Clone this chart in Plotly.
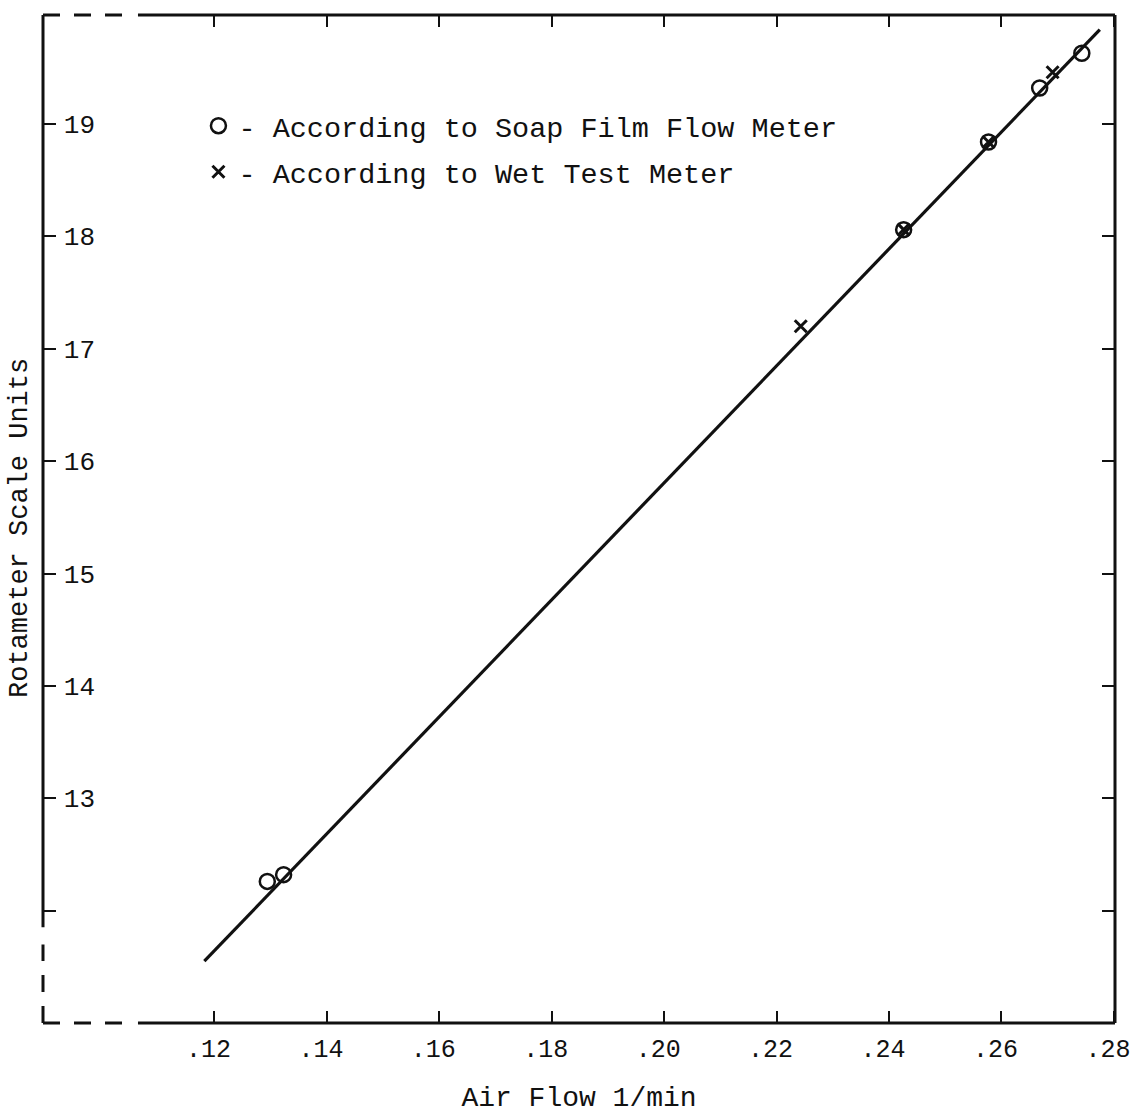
import plotly.graph_objects as go

# ---- data ----
soap_x = [0.1294, 0.1323, 0.2426, 0.2577, 0.2668, 0.2743]
soap_y = [12.26, 12.32, 18.06, 18.84, 19.32, 19.63]
wet_x = [0.2243, 0.2426, 0.2577, 0.2691]
wet_y = [17.20, 18.06, 18.84, 19.46]
fit_x = [0.1182, 0.2775]
fit_y = [11.55, 19.84]

x_ticks = [0.12, 0.14, 0.16, 0.18, 0.20, 0.22, 0.24, 0.26, 0.28]
x_ticktext = [".12", ".14", ".16", ".18", ".20", ".22", ".24", ".26", ".28"]
y_ticks = [12, 13, 14, 15, 16, 17, 18, 19]
y_ticktext = ["", "13", "14", "15", "16", "17", "18", "19"]

FONT = "Liberation Mono"
BLACK = "#111111"

fig = go.Figure()
fig.add_trace(go.Scatter(x=fit_x, y=fit_y, mode="lines",
                         line=dict(color=BLACK, width=3.2), showlegend=False,
                         hoverinfo="skip"))
fig.add_trace(go.Scatter(x=soap_x, y=soap_y, mode="markers",
                         name="- According to Soap Film Flow Meter",
                         legendgroup="a",
                         marker=dict(symbol="circle-open", size=15, color=BLACK,
                                     line=dict(width=2.5, color=BLACK))))
fig.add_trace(go.Scatter(x=wet_x, y=wet_y, mode="markers",
                         name="- According to Wet Test Meter",
                         legendgroup="b",
                         marker=dict(symbol="x-thin-open", size=12, color=BLACK,
                                     line=dict(width=3, color=BLACK))))

# frame: solid parts and dashed parts
shp = []
solid = dict(color=BLACK, width=3)
dashed = dict(color=BLACK, width=3, dash="17px,14px")
D = "x domain"
E = "y domain"
shp.append(dict(type="line", xref=D, yref=E, x0=0.0886, x1=1, y0=1, y1=1, line=solid))
shp.append(dict(type="line", xref=D, yref=E, x0=0, x1=0.0737, y0=1, y1=1, line=dashed))
shp.append(dict(type="line", xref=D, yref=E, x0=0.0886, x1=1, y0=0, y1=0, line=solid))
shp.append(dict(type="line", xref=D, yref=E, x0=0, x1=0.0737, y0=0, y1=0, line=dashed))
shp.append(dict(type="line", xref=D, yref=E, x0=1, x1=1, y0=0, y1=1, line=solid))
shp.append(dict(type="line", xref=D, yref=E, x0=0, x1=0, y0=0.095, y1=1, line=solid))
shp.append(dict(type="line", xref=D, yref=E, x0=0, x1=0, y0=0, y1=0.078, line=dashed))

fig.update_layout(
    width=1135, height=1119,
    margin=dict(l=43, r=20, t=15, b=96),
    paper_bgcolor="white", plot_bgcolor="white",
    font=dict(family=FONT, color=BLACK, size=26),
    shapes=shp,
    showlegend=True,
    legend=dict(x=0.145, xanchor="left", y=0.915, yanchor="top",
                font=dict(family=FONT, size=28.5, color=BLACK),
                bgcolor="rgba(0,0,0,0)", tracegroupgap=6),
    annotations=[dict(text="Rotameter Scale Units", textangle=-90,
                      xref="paper", yref="paper", x=-0.0215, y=0.491,
                      xanchor="center", yanchor="middle", showarrow=False,
                      font=dict(family=FONT, size=27, color=BLACK))],
    xaxis=dict(range=[0.0895, 0.2802], tickvals=x_ticks, ticktext=x_ticktext,
               ticks="inside", ticklen=12, tickwidth=2, tickcolor=BLACK,
               mirror="ticks", showline=False, showgrid=False, zeroline=False,
               ticklabelstandoff=8, ticklabelshift=-6, ticklabeloverflow="allow",
               tickfont=dict(family=FONT, size=25, color=BLACK),
               title=dict(text="Air Flow 1/min", standoff=22,
                          font=dict(family=FONT, size=28, color=BLACK)),
               automargin=False),
    yaxis=dict(range=[11.0, 19.97], tickvals=y_ticks, ticktext=y_ticktext,
               ticks="inside", ticklen=13, tickwidth=2, tickcolor=BLACK,
               mirror="ticks", showline=False, showgrid=False, zeroline=False,
               ticklabelposition="inside", ticklabelstandoff=10,
               ticklabeloverflow="allow",
               tickfont=dict(family=FONT, size=26, color=BLACK),
               automargin=False),
)

fig.write_html("out.html")
